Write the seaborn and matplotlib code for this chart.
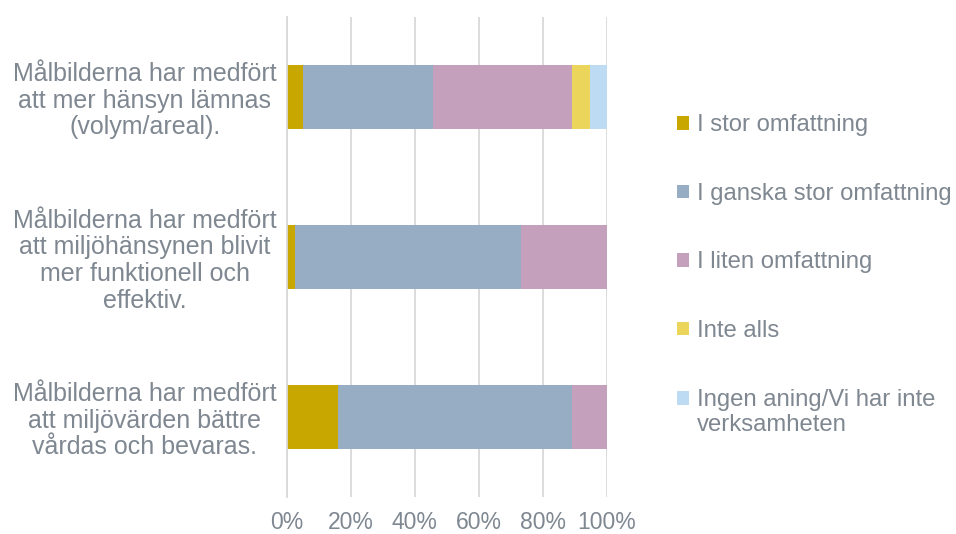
import numpy as np
import pandas as pd
import matplotlib.pyplot as plt
import seaborn as sns
from matplotlib.patches import Patch, Rectangle
from matplotlib.legend_handler import HandlerPatch
from matplotlib.ticker import FixedLocator, PercentFormatter

# survey statements (y categories)
statements = [
    "Målbilderna har medfört\natt mer hänsyn lämnas\n(volym/areal).",
    "Målbilderna har medfört\natt miljöhänsynen blivit\nmer funktionell och\neffektiv.",
    "Målbilderna har medfört\natt miljövärden bättre\nvårdas och bevaras.",
]
answers = [
    "I stor omfattning",
    "I ganska stor omfattning",
    "I liten omfattning",
    "Inte alls",
    "Ingen aning/Vi har inte\nverksamheten",
]
# share in percent per answer, one value per statement
stor = [5.3, 2.7, 16.0]
ganska = [40.6, 70.5, 73.1]
liten = [43.3, 26.8, 10.9]
inte_alls = [5.5, 0.0, 0.0]
ingen_aning = [5.3, 0.0, 0.0]

colors = ["#C8A800", "#96ADC4", "#C5A0BD", "#EBD55A", "#BDDCF4"]
text_col = "#7F8791"
grid_col = "#D9D9D9"

sns.set_theme(style="white")
plt.rcParams["font.family"] = ["Liberation Sans", "DejaVu Sans"]

df = pd.DataFrame(
    np.array([stor, ganska, liten, inte_alls, ingen_aning]).T,
    columns=answers,
)
df["statement"] = statements
cum = df[answers].cumsum(axis=1)

fig = plt.figure(figsize=(9.56, 5.34), dpi=100)
ax = fig.add_axes([0.2997, 0.0693, 0.3349, 0.8989])

# stacked bars: draw cumulative totals from the outermost segment inwards
for ans, col in reversed(list(zip(answers, colors))):
    sns.barplot(
        x=cum[ans], y=df["statement"], orient="h",
        color=col, width=0.4, saturation=1, linewidth=0, ax=ax,
    )

ax.set_xlim(0, 100)
ax.set_ylim(2.5, -0.5)
ax.xaxis.set_major_locator(FixedLocator([0, 20, 40, 60, 80, 100]))
ax.xaxis.set_major_formatter(PercentFormatter(decimals=0))
ax.grid(axis="x", color=grid_col, linewidth=1.3)
ax.set_axisbelow(True)
for s in ["top", "right", "bottom"]:
    ax.spines[s].set_visible(False)
ax.spines["left"].set_color(grid_col)
ax.spines["left"].set_linewidth(1.3)
ax.set_xlabel("")
ax.set_ylabel("")

ax.tick_params(axis="x", length=0, pad=10, labelsize=16.5, labelcolor=text_col)
ax.tick_params(axis="y", which="major", length=0, pad=7, labelsize=18,
               labelcolor=text_col)
for lab in ax.get_yticklabels():
    lab.set_multialignment("center")
    lab.set_linespacing(1.14)
ax.yaxis.set_minor_locator(FixedLocator([-0.5, 0.5, 1.5, 2.5]))
ax.tick_params(axis="y", which="minor", length=6, width=1.3, color=grid_col)


# two-line legend entry: keep the square next to the first line
def top_square(legend, orig_handle, xdescent, ydescent, width, height, fontsize):
    return Rectangle((-xdescent, -ydescent + 0.6 * fontsize), width, height)


handles = [Patch(facecolor=c, edgecolor="none") for c in colors]
leg = fig.legend(
    handles, answers, loc="upper left", bbox_to_anchor=(0.708, 0.786),
    frameon=False, fontsize=17.2, labelcolor=text_col,
    handlelength=0.5, handleheight=0.5, handletextpad=0.35,
    labelspacing=1.95, borderpad=0, borderaxespad=0,
    handler_map={handles[-1]: HandlerPatch(patch_func=top_square)},
)
for t in leg.get_texts():
    t.set_linespacing(1.18)

fig.savefig("out.png", dpi=100)
